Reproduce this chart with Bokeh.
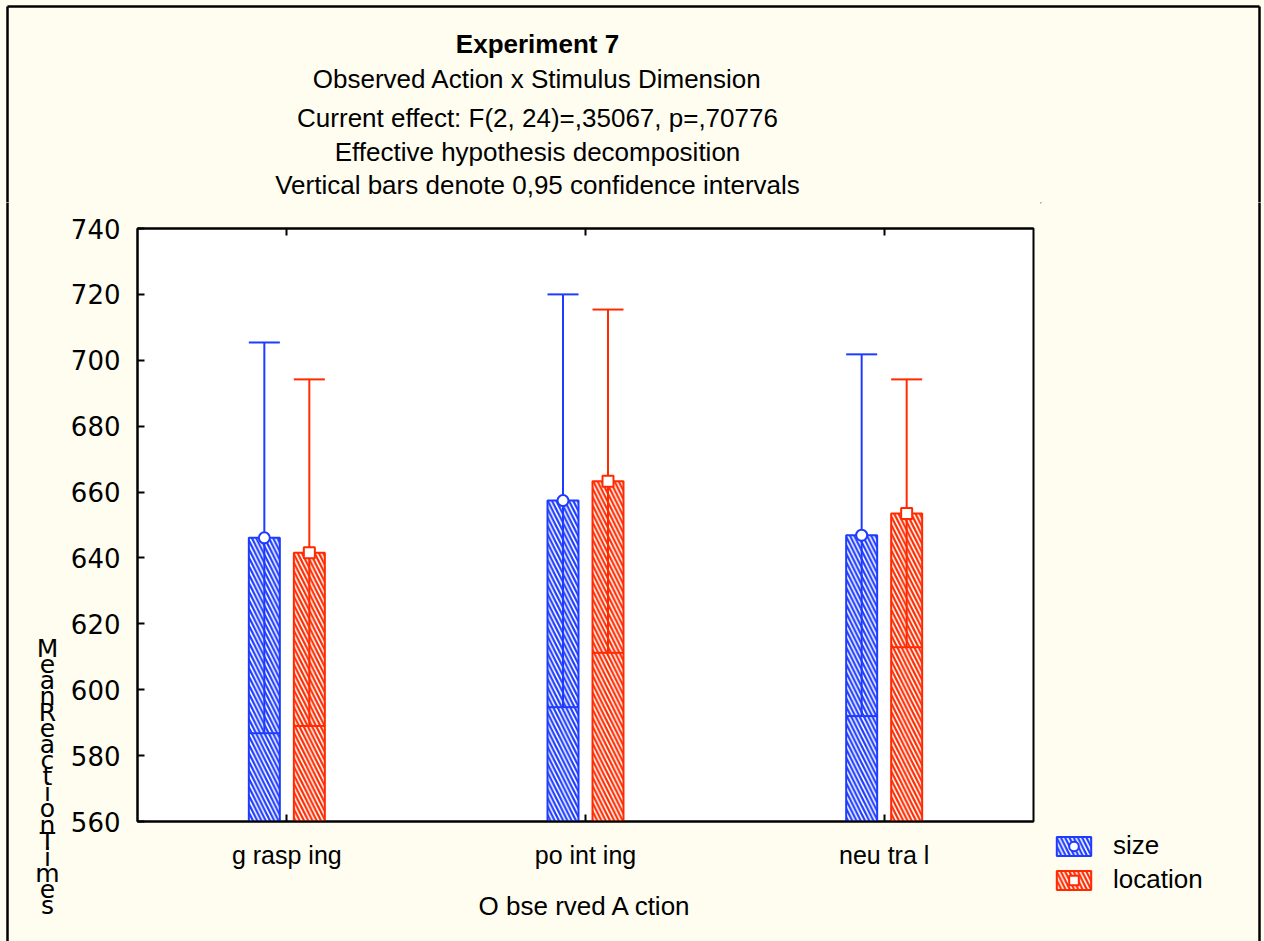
from bokeh.plotting import figure
from bokeh.models import (Range1d, LinearAxis, FixedTicker, Legend, LegendItem,
                          ColumnDataSource)
from bokeh.layouts import column, row
from bokeh.embed import file_html
from bokeh.resources import INLINE

# ---------------- data ----------------
categories = ["grasping", "pointing", "neutral"]
tick_labels = ["g rasp ing", "po int ing", "neu tra l"]
series_names = ["size", "location"]
size_mean = [646.1, 657.4, 646.9]
size_low = [586.8, 594.7, 592.0]
size_high = [705.4, 720.0, 701.8]
loc_mean = [641.6, 663.3, 653.5]
loc_low = [589.0, 611.2, 612.9]
loc_high = [694.2, 715.4, 694.2]
y_ticks = [560, 580, 600, 620, 640, 660, 680, 700, 720, 740]
title_lines = ["Experiment 7",
               "Observed Action x Stimulus Dimension",
               "Current effect: F(2, 24)=,35067, p=,70776",
               "Effective hypothesis decomposition",
               "Vertical bars denote 0,95 confidence intervals"]
x_label = "O bse rved A ction"
y_label = "Mean Reaction Times"

# ---------------- layout constants ----------------
W, H = 1264, 941
TOP_H = 202                 # height of the title strip
LEFT_W, RIGHT_W = 64, 224   # side strips
FX0, FX1, FY0, FY1 = 137, 1033, 228, 821   # plot frame in page pixels
X0, X1, Y0, Y1 = -0.5, 2.5, 560, 740
BLUE = "#1E3CFF"
RED = "#FF2A00"
CREAM = "#FFFDF0"
BORDER_L, BORDER_T, BORDER_R = 7, 6, 1259

bar_w = 31 * (X1 - X0) / (FX1 - FX0)
offset = 22.5 * (X1 - X0) / (FX1 - FX0)


def strip(width, height, xr, yr):
    f = figure(width=width, height=height, x_range=Range1d(*xr), y_range=Range1d(*yr),
               output_backend="svg", toolbar_location=None, title=None,
               x_axis_type=None, y_axis_type=None, frame_align=False,
               min_border_left=0, min_border_right=0, min_border_top=0, min_border_bottom=0,
               background_fill_color=CREAM, border_fill_color=CREAM,
               styles={"background-color": CREAM})
    f.outline_line_color = None
    f.grid.visible = False
    return f


def bar_style(color):
    return dict(fill_color="white", line_color=color, line_width=2,
                hatch_pattern="left_diagonal_line", hatch_color=color,
                hatch_scale=8.5, hatch_weight=2.2)


# ---------------- title strip ----------------
top = strip(W, TOP_H, (0, W), (TOP_H, 0))
title_y = [43, 78, 117, 151, 184]
for i, (t, ty) in enumerate(zip(title_lines, title_y)):
    top.text(x=[537], y=[ty], text=[t], text_align="center", text_baseline="middle",
             text_font={"value": "Liberation Sans"}, text_font_size="26px",
             text_font_style="bold" if i == 0 else "normal", text_color="black")
top.segment(x0=[BORDER_L, BORDER_L, BORDER_R], y0=[BORDER_T, TOP_H + 2, BORDER_T],
            x1=[BORDER_R, BORDER_L, BORDER_R], y1=[BORDER_T, BORDER_T, TOP_H + 2],
            line_color="black", line_width=2.5)

# ---------------- left strip (y label) ----------------
left = strip(LEFT_W, H - TOP_H, (0, LEFT_W), (H, TOP_H))
left.text(x=[47], y=[633], text=["\n".join(y_label.replace(" ", ""))],
          text_align="center", text_baseline="top",
          text_font={"value": "DejaVu Sans"}, text_font_size="25px",
          text_line_height=0.555, text_color="black")
left.segment(x0=[BORDER_L], y0=[TOP_H - 2], x1=[BORDER_L], y1=[H + 5],
             line_color="black", line_width=2.5)

# ---------------- chart ----------------
CW = W - LEFT_W - RIGHT_W
p = figure(width=CW, height=H - TOP_H, output_backend="svg", toolbar_location=None,
           title=None, x_range=Range1d(X0, X1), y_range=Range1d(Y0, Y1), frame_align=False,
           min_border_left=FX0 - LEFT_W, min_border_right=LEFT_W + CW - FX1,
           min_border_top=FY0 - TOP_H, min_border_bottom=H - FY1,
           background_fill_color="white", border_fill_color=CREAM,
           styles={"background-color": CREAM})
p.outline_line_color = "black"
p.outline_line_width = 2
p.xgrid.visible = False
p.ygrid.visible = False

for name, means, lows, highs, color, off, marker in [
        ("size", size_mean, size_low, size_high, BLUE, -offset, "circle"),
        ("location", loc_mean, loc_low, loc_high, RED, offset, "square")]:
    xs = [i + off for i in range(len(categories))]
    src = ColumnDataSource(dict(x=xs, mean=means, low=lows, high=highs,
                                x0=[x - bar_w / 2 for x in xs],
                                x1=[x + bar_w / 2 for x in xs]))
    p.vbar(x="x", width=bar_w, bottom=Y0, top="mean", source=src, **bar_style(color))
    p.segment(x0="x", y0="low", x1="x", y1="high", source=src, line_color=color, line_width=2)
    p.segment(x0="x0", y0="high", x1="x1", y1="high", source=src, line_color=color, line_width=2)
    p.segment(x0="x0", y0="low", x1="x1", y1="low", source=src, line_color=color, line_width=2)
    p.scatter(x="x", y="mean", source=src, marker=marker, size=11,
              fill_color="white", line_color=color, line_width=2)

xa = p.xaxis[0]
xa.ticker = FixedTicker(ticks=list(range(len(categories))))
xa.major_label_overrides = {i: t for i, t in enumerate(tick_labels)}
xa.major_tick_in = 7
xa.major_tick_out = 0
xa.minor_tick_line_color = None
xa.axis_line_width = 2
xa.major_tick_line_width = 2
xa.major_label_text_font = "Liberation Sans"
xa.major_label_text_font_size = "25px"
xa.major_label_text_color = "black"
xa.major_label_standoff = 19
xa.axis_label = x_label
xa.axis_label_text_font = "Liberation Sans"
xa.axis_label_text_font_size = "26px"
xa.axis_label_text_font_style = "normal"
xa.axis_label_text_color = "black"
xa.axis_label_standoff = 19

top_axis = LinearAxis(ticker=FixedTicker(ticks=list(range(len(categories)))),
                      major_tick_in=7, major_tick_out=0, major_label_standoff=0,
                      minor_tick_line_color=None, axis_line_width=2,
                      major_tick_line_width=2,
                      major_label_overrides={i: "" for i in range(len(categories))},
                      major_label_text_font_size="0px")
p.add_layout(top_axis, "above")

ya = p.yaxis[0]
ya.ticker = FixedTicker(ticks=y_ticks)
ya.major_tick_in = 7
ya.major_tick_out = 0
ya.minor_tick_line_color = None
ya.axis_line_width = 2
ya.major_tick_line_width = 2
ya.major_label_text_font = "DejaVu Sans"
ya.major_label_text_font_size = "26px"
ya.major_label_text_color = "black"
ya.major_label_standoff = 17

# ---------------- right strip (legend) ----------------
right = strip(RIGHT_W, H - TOP_H, (W - RIGHT_W, W), (H, TOP_H))
right.segment(x0=[BORDER_R], y0=[TOP_H - 2], x1=[BORDER_R], y1=[H + 5],
              line_color="black", line_width=2.5)
items = []
for name, color, marker in [("size", BLUE, "circle"), ("location", RED, "square")]:
    # legend swatches only: one point placed outside the visible range
    src = ColumnDataSource(dict(x=[-5000], y=[-5000]))
    rb = right.vbar(x="x", top="y", width=1, bottom=-5001, source=src, **bar_style(color))
    rs = right.scatter(x="x", y="y", source=src, marker=marker, size=12,
                       fill_color="white", line_color=color, line_width=2)
    items.append(LegendItem(label=name, renderers=[rb, rs]))
legend = Legend(items=items, location=(12, 46), background_fill_alpha=0,
                border_line_color=None, glyph_width=43, glyph_height=24,
                label_height=24, spacing=3, padding=5, margin=0, label_standoff=18,
                label_text_font="Liberation Sans", label_text_font_size="26px",
                label_text_color="black")
right.add_layout(legend, "center")

layout = column(top, row(left, p, right, spacing=0, styles={"background-color": CREAM}),
                spacing=0, styles={"background-color": CREAM})
open("out.html", "w").write(file_html(layout, INLINE))
